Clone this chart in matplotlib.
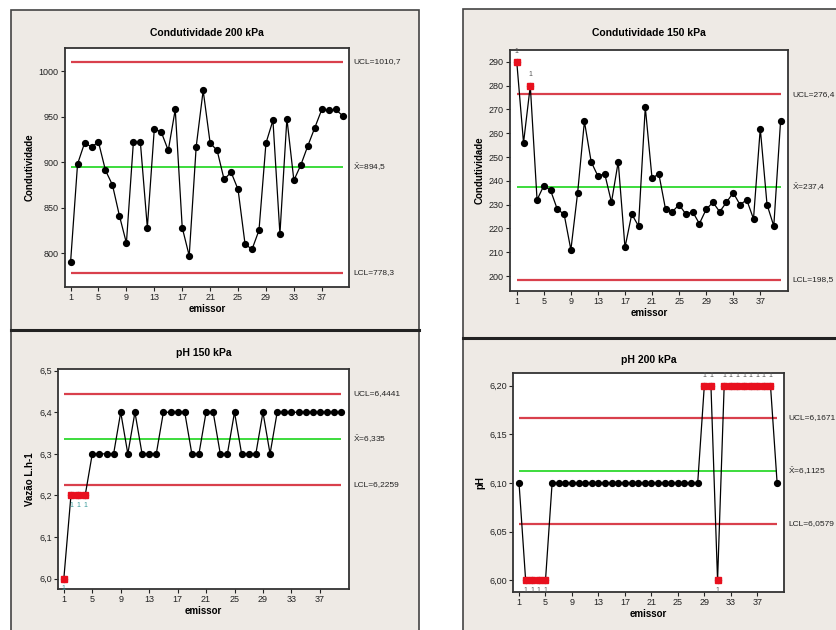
import numpy as np
import matplotlib
matplotlib.use("Agg")
import matplotlib.pyplot as plt
from matplotlib.patches import Rectangle
from matplotlib.lines import Line2D

plt.rcParams['font.family'] = ['Liberation Sans', 'DejaVu Sans']
plt.rcParams['mathtext.fontset'] = 'custom'
plt.rcParams['mathtext.rm'] = 'Liberation Sans'

# ---- data ----
emissor = np.arange(1, 41)

cond200 = [790, 898, 921, 917, 922, 891, 875, 841, 811, 922,
           922, 828, 937, 933, 913, 958, 828, 797, 917, 979,
           921, 913, 881, 889, 870, 810, 804, 825, 921, 946,
           821, 948, 880, 897, 918, 938, 958, 957, 958, 951]
cond200_lim = (1010.7, 894.5, 778.3)
cond200_txt = ('1010,7', '894,5', '778,3')
cond200_out = []

cond150 = [290, 256, 280, 232, 238, 236, 228, 226, 211, 235,
           265, 248, 242, 243, 231, 248, 212, 226, 221, 271,
           241, 243, 228, 227, 230, 226, 227, 222, 228, 231,
           227, 231, 235, 230, 232, 224, 262, 230, 221, 265]
cond150_lim = (276.4, 237.4, 198.5)
cond150_txt = ('276,4', '237,4', '198,5')
cond150_out = [1, 3]

ph150 = [6.0, 6.2, 6.2, 6.2, 6.3, 6.3, 6.3, 6.3, 6.4, 6.3,
         6.4, 6.3, 6.3, 6.3, 6.4, 6.4, 6.4, 6.4, 6.3, 6.3,
         6.4, 6.4, 6.3, 6.3, 6.4, 6.3, 6.3, 6.3, 6.4, 6.3,
         6.4, 6.4, 6.4, 6.4, 6.4, 6.4, 6.4, 6.4, 6.4, 6.4]
ph150_lim = (6.4441, 6.335, 6.2259)
ph150_txt = ('6,4441', '6,335', '6,2259')
ph150_out = [1, 2, 3, 4]

ph200 = [6.1, 6.0, 6.0, 6.0, 6.0] + [6.1] * 23 + [6.2, 6.2, 6.0] + [6.2] * 8 + [6.1]
ph200_lim = (6.1671, 6.1125, 6.0579)
ph200_txt = ('6,1671', '6,1125', '6,0579')
ph200_out = [2, 3, 4, 5, 29, 30, 31, 32, 33, 34, 35, 36, 37, 38, 39]

W, H = 836, 630
fig = plt.figure(figsize=(W / 100, H / 100), dpi=100)
fig.patch.set_facecolor('white')

BG = '#EEEAE5'
RED = '#D9404C'
GREEN = '#3CDC3C'


def px_rect(l, t, r, b):
    return [l / W, 1 - b / H, (r - l) / W, (b - t) / H]


# panel boxes (drawn behind the axes)
for (l, t, r, b, sep) in [(11, 10, 419, 640, 330), (463, 9, 845, 640, 338)]:
    fig.patches.append(Rectangle((l / W, 1 - b / H), (r - l) / W, (b - t) / H,
                                 transform=fig.transFigure, facecolor=BG,
                                 edgecolor='#444444', lw=1.2, zorder=-2))
    fig.lines.append(Line2D([l / W, r / W], [1 - sep / H, 1 - sep / H],
                            transform=fig.transFigure, color='#222222', lw=2.2,
                            zorder=-1))


def fmt(v, nd):
    return f"{v:.{nd}f}".replace('.', ',')


def control(rect, title, ylabel, y, lim, txt, out, ylim, xlim, yticks, ynd,
            title_y, outmark_col='#555555'):
    ax = fig.add_axes(px_rect(*rect))
    ax.set_facecolor('white')
    ucl, cl, lcl = lim
    ax.hlines([ucl, lcl], 1, 40, colors=RED, lw=1.6, zorder=1)
    ax.hlines(cl, 1, 40, colors=GREEN, lw=1.4, zorder=1)
    ax.plot(emissor, y, color='black', lw=0.9, marker='o', ms=4.2, zorder=3)
    yy = np.array(y)
    if out:
        idx = np.array(out) - 1
        ax.plot(emissor[idx], yy[idx], ls='none', marker='s', ms=4.2,
                color='#E8101E', zorder=4)
        span = ylim[1] - ylim[0]
        for i in idx:
            above = yy[i] > cl
            dy = span * 0.03 if above else -span * 0.03
            ax.text(emissor[i], yy[i] + dy, '1', fontsize=5,
                    color=outmark_col, ha='center',
                    va='bottom' if above else 'top', clip_on=False, zorder=5)
    ax.set_xlim(*xlim)
    ax.set_ylim(*ylim)
    ax.set_xticks(np.arange(1, 41, 4))
    ax.set_yticks(yticks)
    ax.set_yticklabels([fmt(v, ynd) for v in yticks])
    ax.tick_params(labelsize=6.5, length=3, width=0.8, pad=1.5, colors='#222222')
    for s in ax.spines.values():
        s.set_color('#333333')
        s.set_linewidth(1.3)
    ax.set_xlabel('emissor', fontsize=7, fontweight='bold', labelpad=1)
    ax.set_ylabel(ylabel, fontsize=7, fontweight='bold', labelpad=3)
    labels = ['UCL=' + txt[0], r'$\bar{\mathrm{X}}$=' + txt[1], 'LCL=' + txt[2]]
    for val, lab in zip(lim, labels):
        ax.annotate(lab, xy=(1.0, val),
                    xycoords=('axes fraction', 'data'), xytext=(3, 0),
                    textcoords='offset points', fontsize=6, va='center',
                    ha='left', color='#222222')
    fig.text((rect[0] + rect[2]) / 2 / W, 1 - title_y / H, title,
             fontsize=7.5, fontweight='bold', ha='center', va='center')
    return ax


control((65, 48, 349, 287), 'Condutividade 200 kPa', 'Condutividade',
        cond200, cond200_lim, cond200_txt, cond200_out, (762.6, 1025.7),
        (0.2, 40.9), [800, 850, 900, 950, 1000], 0, 33)
control((510, 50, 788, 291), 'Condutividade 150 kPa', 'Condutividade',
        cond150, cond150_lim, cond150_txt, cond150_out, (193.7, 295.0),
        (0.0, 41.1), list(range(200, 291, 10)), 0, 33)
control((58, 369, 349, 589), 'pH 150 kPa', 'Vazão L.h-1',
        ph150, ph150_lim, ph150_txt, ph150_out, (5.975, 6.504), (0.18, 41.1),
        [6.0, 6.1, 6.2, 6.3, 6.4, 6.5], 1, 353, outmark_col='#3A9A9A')
control((513, 373, 784, 592), 'pH 200 kPa', 'pH',
        ph200, ph200_lim, ph200_txt, ph200_out, (5.988, 6.213), (0.09, 41.04),
        [6.00, 6.05, 6.10, 6.15, 6.20], 2, 360)

fig.savefig('out.png', dpi=100)
